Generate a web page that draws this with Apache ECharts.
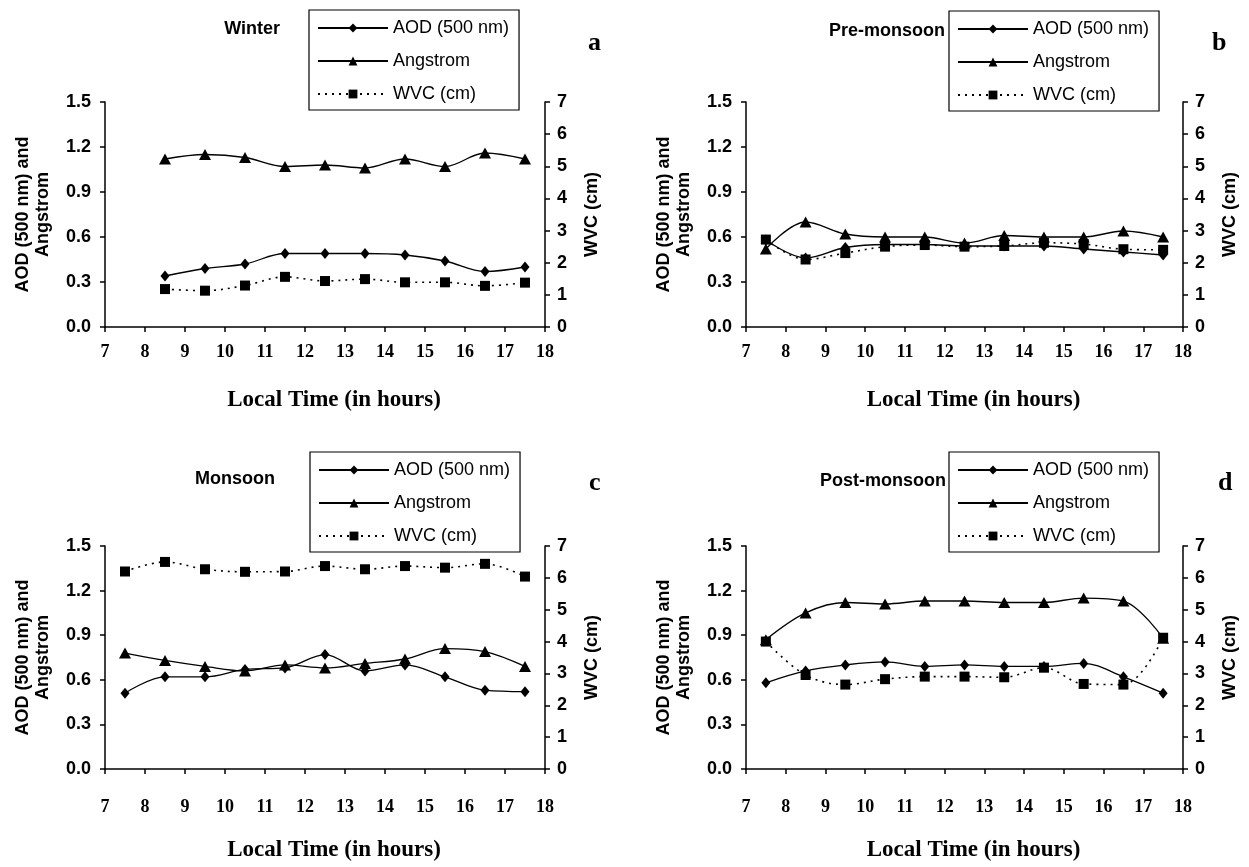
<!DOCTYPE html>
<html>
<head>
<meta charset="utf-8">
<script src="https://cdn.jsdelivr.net/npm/echarts@6/dist/echarts.min.js"></script>
<style>html,body{margin:0;padding:0;background:#fff}#c{width:1249px;height:867px}</style>
</head>
<body>
<div id="c"></div>
<script>
// ---- data ----
const hoursWinter = [8.5, 9.5, 10.5, 11.5, 12.5, 13.5, 14.5, 15.5, 16.5, 17.5];
const hours = [7.5, 8.5, 9.5, 10.5, 11.5, 12.5, 13.5, 14.5, 15.5, 16.5, 17.5];
const seriesNames = ['AOD (500 nm)', 'Angstrom', 'WVC (cm)'];
const panelTitles = ['Winter', 'Pre-monsoon', 'Monsoon', 'Post-monsoon'];
const panelLetters = ['a', 'b', 'c', 'd'];
const xTicks = [7, 8, 9, 10, 11, 12, 13, 14, 15, 16, 17, 18];
const leftTicks = [0.0, 0.3, 0.6, 0.9, 1.2, 1.5];
const rightTicks = [0, 1, 2, 3, 4, 5, 6, 7];

const winterAOD = [0.34, 0.39, 0.42, 0.49, 0.49, 0.49, 0.48, 0.44, 0.37, 0.40];
const winterAng = [1.12, 1.15, 1.13, 1.07, 1.08, 1.06, 1.12, 1.07, 1.16, 1.12];
const winterWVC = [1.18, 1.13, 1.29, 1.56, 1.43, 1.49, 1.39, 1.39, 1.28, 1.38];

const preAOD = [0.58, 0.46, 0.53, 0.55, 0.55, 0.54, 0.54, 0.54, 0.52, 0.50, 0.48];
const preAng = [0.52, 0.70, 0.62, 0.60, 0.60, 0.56, 0.61, 0.60, 0.60, 0.64, 0.60];
const preWVC = [2.72, 2.10, 2.30, 2.50, 2.55, 2.50, 2.52, 2.62, 2.58, 2.42, 2.40];

const monAOD = [0.51, 0.62, 0.62, 0.67, 0.68, 0.77, 0.66, 0.70, 0.62, 0.53, 0.52];
const monAng = [0.78, 0.73, 0.69, 0.66, 0.70, 0.68, 0.71, 0.74, 0.81, 0.79, 0.69];
const monWVC = [6.20, 6.50, 6.27, 6.19, 6.20, 6.37, 6.27, 6.37, 6.32, 6.44, 6.04];

const postAOD = [0.58, 0.66, 0.70, 0.72, 0.69, 0.70, 0.69, 0.69, 0.71, 0.62, 0.51];
const postAng = [0.87, 1.05, 1.12, 1.11, 1.13, 1.13, 1.12, 1.12, 1.15, 1.13, 0.88];
const postWVC = [4.00, 2.95, 2.65, 2.82, 2.90, 2.90, 2.88, 3.18, 2.67, 2.65, 4.12];

const panelData = [
  {x: hoursWinter, aod: winterAOD, ang: winterAng, wvc: winterWVC},
  {x: hours, aod: preAOD, ang: preAng, wvc: preWVC},
  {x: hours, aod: monAOD, ang: monAng, wvc: monWVC},
  {x: hours, aod: postAOD, ang: postAng, wvc: postWVC}
];

// ---- layout ----
const grids = [
  {left: 105, top: 102, width: 440, height: 225},
  {left: 746, top: 102, width: 437, height: 225},
  {left: 105, top: 546, width: 440, height: 223},
  {left: 746, top: 546, width: 437, height: 223}
];
const labelMargins = [16, 16, 29, 29];
const nameGaps = [62, 62, 70, 70];
const legendPos = [
  {left: 309, top: 10}, {left: 949, top: 11},
  {left: 310, top: 452}, {left: 949, top: 452}
];
const titleRight = [969, 304, 974, 303];
const titleTop = [20, 22, 470, 472];
const letterPos = [{left: 588, top: 30}, {left: 1212, top: 30}, {left: 589, top: 470}, {left: 1218, top: 470}];

const SANS = 'Liberation Sans, Arial, sans-serif';
const SERIF = 'Liberation Serif, Times New Roman, serif';
const axisLine = {show: true, lineStyle: {color: '#000', width: 1.5}};

const option = {
  animation: false,
  backgroundColor: '#fff',
  title: [],
  legend: [],
  grid: [], xAxis: [], yAxis: [], series: []
};

panelData.forEach((p, i) => {
  option.grid.push(Object.assign({containLabel: false}, grids[i]));
  option.xAxis.push({
    type: 'value', gridIndex: i, min: xTicks[0], max: xTicks[xTicks.length - 1], interval: 1,
    axisLine: axisLine,
    axisTick: {show: true, inside: false, length: 5, lineStyle: {color: '#000', width: 1.5}},
    axisLabel: {margin: labelMargins[i], color: '#000', fontFamily: SERIF, fontWeight: 'bold', fontSize: 18},
    splitLine: {show: false},
    name: 'Local Time (in hours)', nameLocation: 'middle', nameGap: nameGaps[i],
    nameTextStyle: {color: '#000', fontFamily: SERIF, fontWeight: 'bold', fontSize: 23, padding: [0, 0, 0, 18]}
  });
  option.yAxis.push({
    type: 'value', gridIndex: i, min: leftTicks[0], max: leftTicks[leftTicks.length - 1], interval: 0.3,
    position: 'left',
    axisLine: axisLine,
    axisTick: {show: true, inside: false, length: 5, lineStyle: {color: '#000', width: 1.5}},
    axisLabel: {margin: 14, color: '#000', fontFamily: SANS, fontWeight: 'bold', fontSize: 18,
      formatter: v => v.toFixed(1)},
    splitLine: {show: false},
    name: 'AOD (500 nm) and\nAngstrom', nameLocation: 'middle', nameGap: 52, nameRotate: 90,
    nameTextStyle: {color: '#000', fontFamily: SANS, fontWeight: 'bold', fontSize: 18, lineHeight: 20}
  });
  option.yAxis.push({
    type: 'value', gridIndex: i, min: rightTicks[0], max: rightTicks[rightTicks.length - 1], interval: 1,
    position: 'right',
    axisLine: axisLine,
    axisTick: {show: true, inside: false, length: 5, lineStyle: {color: '#000', width: 1.5}},
    axisLabel: {margin: 12, color: '#000', fontFamily: SANS, fontWeight: 'bold', fontSize: 18},
    splitLine: {show: false},
    name: 'WVC (cm)', nameLocation: 'middle', nameGap: 38, nameRotate: 90,
    nameTextStyle: {color: '#000', fontFamily: SANS, fontWeight: 'bold', fontSize: 18}
  });
  const mk = (vals) => p.x.map((x, k) => [x, vals[k]]);
  option.series.push({
    type: 'line', name: seriesNames[0], xAxisIndex: i, yAxisIndex: 2 * i, data: mk(p.aod),
    smooth: 0.35, symbol: 'diamond', symbolSize: [9, 11],
    lineStyle: {color: '#000', width: 1.3}, itemStyle: {color: '#000'}
  });
  option.series.push({
    type: 'line', name: seriesNames[1], xAxisIndex: i, yAxisIndex: 2 * i, data: mk(p.ang),
    smooth: 0.35, symbol: 'triangle', symbolSize: [12, 11],
    lineStyle: {color: '#000', width: 1.3}, itemStyle: {color: '#000'}
  });
  option.series.push({
    type: 'line', name: seriesNames[2], xAxisIndex: i, yAxisIndex: 2 * i + 1, data: mk(p.wvc),
    smooth: 0.35, symbol: 'rect', symbolSize: 10,
    lineStyle: {color: '#000', width: 1.6, type: [2, 5]}, itemStyle: {color: '#000'}
  });
  option.legend.push({
    data: seriesNames, orient: 'vertical', left: legendPos[i].left, top: legendPos[i].top,
    backgroundColor: '#fff', borderColor: '#000', borderWidth: 1.2,
    padding: [9, 10, 7, 8], itemGap: 15, itemWidth: 70, itemHeight: 11,
    textStyle: {color: '#000', fontFamily: SANS, fontSize: 18},
    selectedMode: false
  });
  option.title.push({
    text: panelTitles[i], right: titleRight[i], top: titleTop[i], padding: 0,
    textStyle: {color: '#000', fontFamily: SANS, fontWeight: 'bold', fontSize: 18}
  });
  option.title.push({
    text: panelLetters[i], left: letterPos[i].left, top: letterPos[i].top, padding: 0,
    textStyle: {color: '#000', fontFamily: SERIF, fontWeight: 'bold', fontSize: 26}
  });
});

const chart = echarts.init(document.getElementById('c'), null, {renderer: 'canvas'});
chart.setOption(option);
</script>
</body>
</html>
